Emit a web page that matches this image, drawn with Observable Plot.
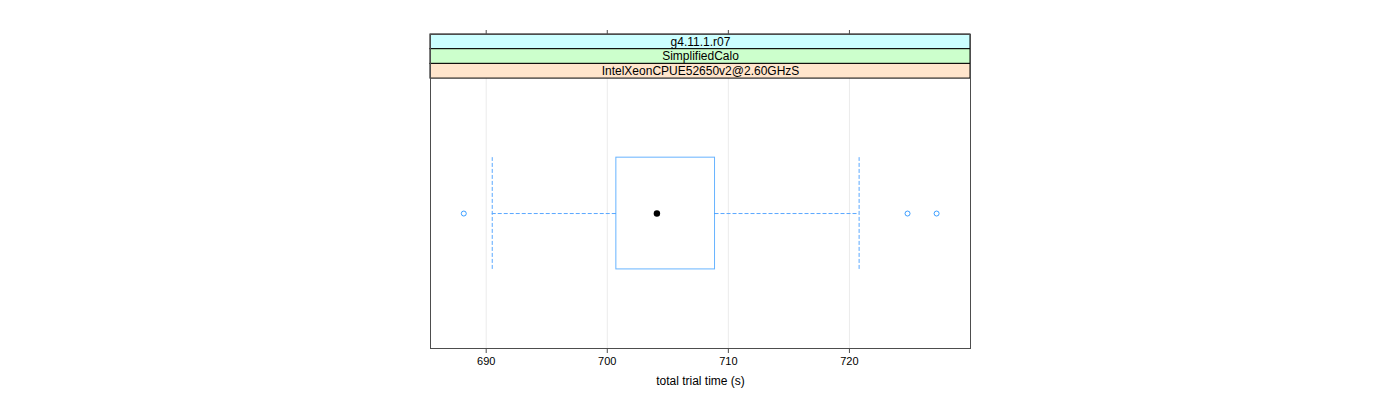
<!DOCTYPE html>
<html>
<head>
<meta charset="utf-8">
<script src="https://cdn.jsdelivr.net/npm/d3@7"></script>
<script src="https://cdn.jsdelivr.net/npm/@observablehq/plot@0.6"></script>
<style>
  html, body { margin: 0; padding: 0; background: white; }
</style>
</head>
<body>
<div id="chart"></div>
<script>
// ---- data ----
const panels = ["g4.11.1.r07", "SimplifiedCalo", "IntelXeonCPUE52650v2@2.60GHzS"];
const stripColors = ["#ccffff", "#ccffcc", "#ffe5cc"];
const xTicks = [690, 700, 710, 720];
const xDomain = [685.4, 730.0];
// lower whisker, Q1, median, Q3, upper whisker
const boxStats = [690.5, 700.75, 704.1, 708.9, 720.8];
const outliers = [688.15, 724.8, 727.2];
const xLabel = "total trial time (s)";

// ---- layout helpers (panel y runs 0..1, strips stacked above) ----
const stripH = 14.7 / 270;
const boxHalf = 0.207;
const blue = "#0080ff";
const whiskerBlue = "#5aa8ff";

const chart = Plot.plot({
  width: 1400,
  height: 400,
  marginLeft: 430,
  marginRight: 430,
  marginTop: 34,
  marginBottom: 52,
  style: { fontFamily: "'Liberation Sans', Arial, sans-serif", fontSize: "12px", background: "white", color: "black" },
  x: { domain: xDomain },
  y: { domain: [0, 1 + 3 * stripH], axis: null },
  color: { type: "identity" },
  marks: [
    Plot.ruleX(xTicks, { y1: 0, y2: 1, stroke: "#ebebeb" }),
    Plot.rect(panels, {
      x1: xDomain[0], x2: xDomain[1],
      y1: (d, i) => 1 + (2 - i) * stripH,
      y2: (d, i) => 1 + (3 - i) * stripH,
      fill: (d, i) => stripColors[i],
      stroke: "#000", strokeWidth: 1
    }),
    Plot.text(panels, {
      y: (d, i) => 1 + (2.5 - i) * stripH,
      text: d => d, fill: "black", fontSize: 12
    }),
    Plot.ruleY([0.5, 0.5], {
      x1: (d, i) => i === 0 ? boxStats[0] : boxStats[3],
      x2: (d, i) => i === 0 ? boxStats[1] : boxStats[4],
      stroke: whiskerBlue, strokeDasharray: "4,2"
    }),
    Plot.ruleX([boxStats[0], boxStats[4]], {
      y1: 0.5 - boxHalf, y2: 0.5 + boxHalf,
      stroke: whiskerBlue, strokeDasharray: "4,2"
    }),
    Plot.rect([boxStats], {
      x1: d => d[1], x2: d => d[3], y1: 0.5 - boxHalf, y2: 0.5 + boxHalf,
      fill: "none", stroke: blue, strokeOpacity: 0.6
    }),
    Plot.dot(outliers, { x: d => d, y: 0.5, r: 2.5, stroke: blue, strokeOpacity: 0.75, fill: "none", strokeWidth: 1 }),
    Plot.dot([boxStats[2]], { x: d => d, y: 0.5, r: 3.2, fill: "black", stroke: "none" }),
    Plot.frame({ stroke: "#4d4d4d" }),
    Plot.axisX(xTicks, { anchor: "bottom", tickSize: 5, tickPadding: 4, label: null, fontSize: 11, stroke: "#4d4d4d" }),
    Plot.axisX(xTicks, { anchor: "top", tickSize: 5, tickFormat: () => "", label: null, stroke: "#4d4d4d" }),
    Plot.text([xLabel], { frameAnchor: "bottom", dy: 36, text: d => d, fontSize: 12, fill: "black" })
  ]
});
document.getElementById("chart").appendChild(chart);
</script>
</body>
</html>
